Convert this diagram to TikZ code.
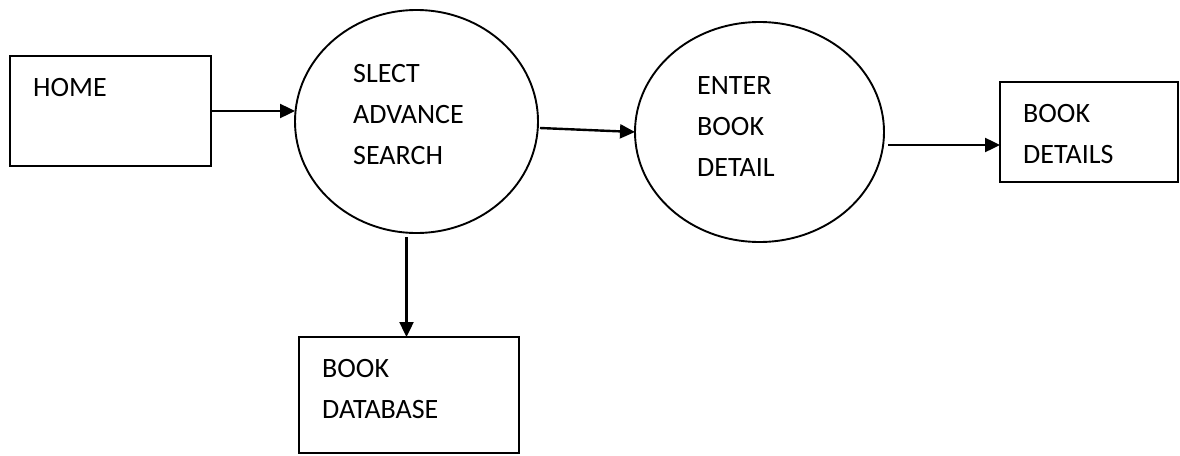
\documentclass[tikz,border=0pt]{standalone}
\usepackage{fontspec}
\setmainfont{Carlito}
\usetikzlibrary{arrows.meta,shapes.geometric}
\begin{document}
\begin{tikzpicture}[x=1pt,y=-1pt,
  entity/.style={draw, line width=1.9pt, rectangle, inner sep=0pt, outer sep=0pt},
  process/.style={draw, line width=1.9pt, ellipse, inner sep=0pt, outer sep=0pt},
  lbl/.style={anchor=north west, inner sep=0pt, align=left,
              font=\fontsize{28}{41}\selectfont},
  flow/.style={line width=2.4pt, -{Triangle[length=15pt,width=14pt]}}]
  % canvas
  \path[fill=white] (0,0) rectangle (1180,455);
  \useasboundingbox (0,0) rectangle (1180,455);

  % external entities and processes
  \node[entity, minimum width=201pt, minimum height=110pt] (home) at (110.5,111) {};
  \node[process, minimum width=243pt, minimum height=223pt] (search) at (416.5,121.5) {};
  \node[process, minimum width=249pt, minimum height=220pt] (enter) at (759.5,132) {};
  \node[entity, minimum width=178pt, minimum height=100pt] (details) at (1089,132) {};
  \node[entity, minimum width=220pt, minimum height=116pt] (db) at (409,395) {};

  % labels
  \node[lbl] (thome) at (33,78) {HOME};
  \node[lbl] (tsearch) at (353,64) {SLECT\\ADVANCE\\SEARCH};
  \node[lbl] (tenter) at (697,76) {ENTER\\BOOK\\DETAIL};
  \node[lbl] (tdetails) at (1023,104) {BOOK\\DETAILS};
  \node[lbl] (tdb) at (322,359) {BOOK\\DATABASE};

  % data flows
  \draw[flow] (home.east) -- (home.east -| search.west);
  \draw[flow] ([xshift=2pt,yshift=-6.5pt]search.east) -- (enter.west);
  \draw[flow] ([xshift=4pt,yshift=-13pt]enter.east) -- ([yshift=-13pt]details.west);
  \draw[flow] ([xshift=-10pt,yshift=-4pt]search.south) coordinate (s) -- (s |- db.north);
\end{tikzpicture}
\end{document}
